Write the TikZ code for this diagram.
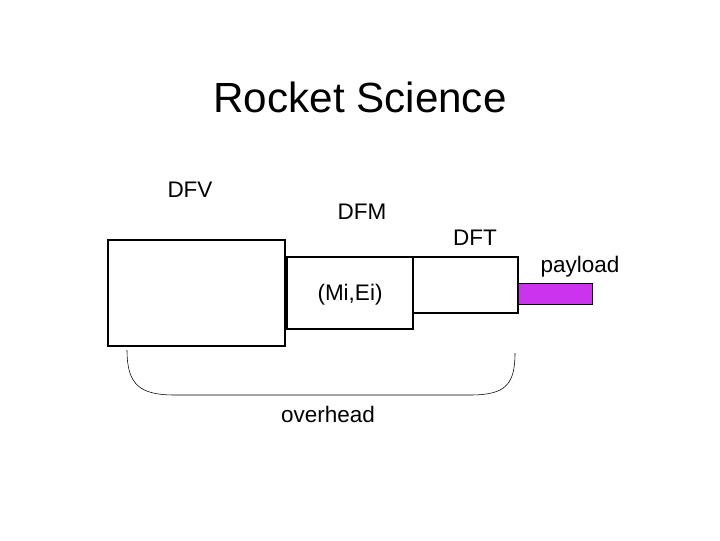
\documentclass[tikz,border=0pt]{standalone}
\usepackage{fontspec}
\setmainfont{Liberation Sans}
\definecolor{payload}{HTML}{CC33EE}
\begin{document}
\begin{tikzpicture}[x=0.025cm,y=-0.025cm,
  box/.style={draw,line width=1.6pt},
  lbl/.style={font=\fontsize{16}{18}\selectfont}]
\useasboundingbox (0,0) rectangle (720,540);
\node[font=\fontsize{30}{34}\selectfont] (title) at (360,97) {Rocket Science};
\draw[box] (108,240) rectangle (285,346);
\draw[box] (287,257) rectangle (413,329);
\draw[box] (413,257) rectangle (518,313);
\draw[fill=payload] (518,283) rectangle (592,304);
\node[lbl] (dfv) at (190,190) {DFV};
\node[lbl] (dfm) at (362,212) {DFM};
\node[lbl] (dft) at (475,238) {DFT};
\node[lbl] (pl) at (580,267) {payload};
\node[lbl] (mi) at (350,295) {(Mi,Ei)};
\node[lbl] (oh) at (328,414) {overhead};
\draw (127,350) .. controls (127,385) and (140,395) .. (175,395) -- (470,395)
  .. controls (505,395) and (515,385) .. (515,353);
\end{tikzpicture}
\end{document}
